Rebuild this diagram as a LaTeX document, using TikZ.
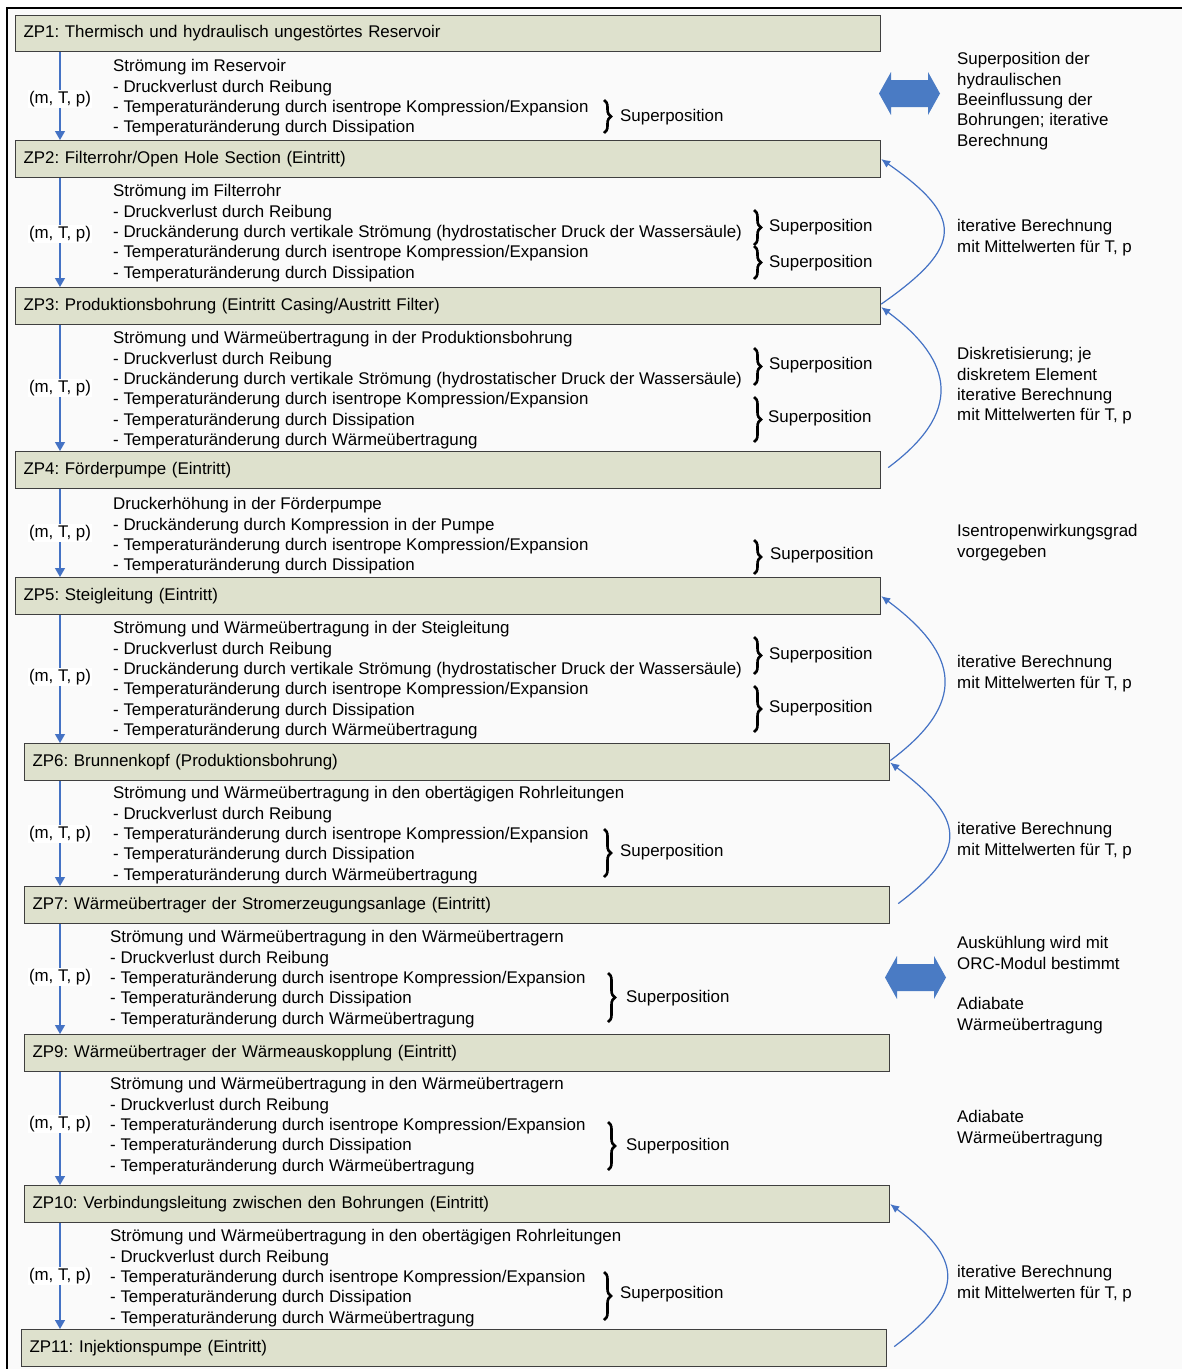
\documentclass[tikz,border=0pt]{standalone}
\usepackage{fontspec}
\setmainfont{Liberation Sans}
\usetikzlibrary{arrows.meta,decorations.pathreplacing}
\definecolor{boxfill}{HTML}{DEE1CD}
\definecolor{boxline}{HTML}{3F3F3F}
\definecolor{flowblue}{HTML}{4472C4}
\definecolor{bigblue}{HTML}{4A7BC4}
\definecolor{bgcol}{HTML}{FAFAFA}
\frenchspacing
\begin{document}
\begin{tikzpicture}[x=1pt,y=-1pt,
  font=\fontsize{16.9}{20.3}\selectfont,
  zp/.style={draw=boxline, line width=1.2pt, fill=boxfill, anchor=north west,
    minimum height=37pt, inner xsep=8pt, inner ysep=0pt, text width=849pt, align=left},
  flow/.style={draw=flowblue, line width=1.3pt, -{Triangle[width=10pt,length=9pt]}},
  curv/.style={draw=flowblue, line width=1.2pt, -{Latex[width=8pt,length=9pt]}},
  mtp/.style={fill=white, inner xsep=1pt, inner ysep=1.5pt},
  blk/.style={anchor=north west, align=left, inner sep=0pt},
  rt/.style={anchor=north west, align=left, inner sep=0pt},
  brc/.style={decorate, decoration={brace, amplitude=7pt}, line width=2.6pt},
  sp/.style={anchor=west, inner sep=0pt}]
\useasboundingbox (0,0) rectangle (1182,1369);
\fill[bgcol] (7,8) rectangle (1182,1369);
\draw[line width=1.5pt] (7,1369) -- (7,8) -- (1182,8);

% boxes
\node[zp, minimum height=36pt] (zp1) at (15,15) {ZP1: Thermisch und hydraulisch ungestörtes Reservoir};
\node[zp] (zp2) at (15,140) {ZP2: Filterrohr/Open Hole Section (Eintritt)};
\node[zp] (zp3) at (15,287) {ZP3: Produktionsbohrung (Eintritt Casing/Austritt Filter)};
\node[zp] (zp4) at (15,451) {ZP4: Förderpumpe (Eintritt)};
\node[zp] (zp5) at (15,577) {ZP5: Steigleitung (Eintritt)};
\node[zp] (zp6) at (24,743) {ZP6: Brunnenkopf (Produktionsbohrung)};
\node[zp] (zp7) at (24,886) {ZP7: Wärmeübertrager der Stromerzeugungsanlage (Eintritt)};
\node[zp] (zp9) at (24,1034) {ZP9: Wärmeübertrager der Wärmeauskopplung (Eintritt)};
\node[zp] (zp10) at (24,1185) {ZP10: Verbindungsleitung zwischen den Bohrungen (Eintritt)};
\node[zp] (zp11) at (21,1329) {ZP11: Injektionspumpe (Eintritt)};

% vertical flow arrows
\coordinate (ax) at (60,0);
\draw[flow] (zp1.south -| ax) -- (zp2.north -| ax);
\draw[flow] (zp2.south -| ax) -- (zp3.north -| ax);
\draw[flow] (zp3.south -| ax) -- (zp4.north -| ax);
\draw[flow] (zp4.south -| ax) -- (zp5.north -| ax);
\draw[flow] (zp5.south -| ax) -- (zp6.north -| ax);
\draw[flow] (zp6.south -| ax) -- (zp7.north -| ax);
\draw[flow] (zp7.south -| ax) -- (zp9.north -| ax);
\draw[flow] (zp9.south -| ax) -- (zp10.north -| ax);
\draw[flow] (zp10.south -| ax) -- (zp11.north -| ax);

\node[mtp] (m1) at (60,99) {(m, T, p)};
\node[mtp] (m2) at (60,234) {(m, T, p)};
\node[mtp] (m3) at (60,388) {(m, T, p)};
\node[mtp] (m4) at (60,533) {(m, T, p)};
\node[mtp] (m5) at (60,677) {(m, T, p)};
\node[mtp] (m6) at (60,834) {(m, T, p)};
\node[mtp] (m7) at (60,977) {(m, T, p)};
\node[mtp] (m8) at (60,1124) {(m, T, p)};
\node[mtp] (m9) at (60,1276) {(m, T, p)};

% text blocks
\node[blk] (b1) at (113,59.5) {Strömung im Reservoir\\- Druckverlust durch Reibung\\- Temperaturänderung durch isentrope Kompression/Expansion\\- Temperaturänderung durch Dissipation};
\node[blk] (b2) at (113,184.5) {Strömung im Filterrohr\\- Druckverlust durch Reibung\\- Druckänderung durch vertikale Strömung (hydrostatischer Druck der Wassersäule)\\- Temperaturänderung durch isentrope Kompression/Expansion\\- Temperaturänderung durch Dissipation};
\node[blk] (b3) at (113,331.5) {Strömung und Wärmeübertragung in der Produktionsbohrung\\- Druckverlust durch Reibung\\- Druckänderung durch vertikale Strömung (hydrostatischer Druck der Wassersäule)\\- Temperaturänderung durch isentrope Kompression/Expansion\\- Temperaturänderung durch Dissipation\\- Temperaturänderung durch Wärmeübertragung};
\node[blk] (b4) at (113,497.5) {Druckerhöhung in der Förderpumpe\\- Druckänderung durch Kompression in der Pumpe\\- Temperaturänderung durch isentrope Kompression/Expansion\\- Temperaturänderung durch Dissipation};
\node[blk] (b5) at (113,621.5) {Strömung und Wärmeübertragung in der Steigleitung\\- Druckverlust durch Reibung\\- Druckänderung durch vertikale Strömung (hydrostatischer Druck der Wassersäule)\\- Temperaturänderung durch isentrope Kompression/Expansion\\- Temperaturänderung durch Dissipation\\- Temperaturänderung durch Wärmeübertragung};
\node[blk] (b6) at (113,786.5) {Strömung und Wärmeübertragung in den obertägigen Rohrleitungen\\- Druckverlust durch Reibung\\- Temperaturänderung durch isentrope Kompression/Expansion\\- Temperaturänderung durch Dissipation\\- Temperaturänderung durch Wärmeübertragung};
\node[blk] (b7) at (110,930.5) {Strömung und Wärmeübertragung in den Wärmeübertragern\\- Druckverlust durch Reibung\\- Temperaturänderung durch isentrope Kompression/Expansion\\- Temperaturänderung durch Dissipation\\- Temperaturänderung durch Wärmeübertragung};
\node[blk] (b8) at (110,1077.5) {Strömung und Wärmeübertragung in den Wärmeübertragern\\- Druckverlust durch Reibung\\- Temperaturänderung durch isentrope Kompression/Expansion\\- Temperaturänderung durch Dissipation\\- Temperaturänderung durch Wärmeübertragung};
\node[blk] (b9) at (110,1229.5) {Strömung und Wärmeübertragung in den obertägigen Rohrleitungen\\- Druckverlust durch Reibung\\- Temperaturänderung durch isentrope Kompression/Expansion\\- Temperaturänderung durch Dissipation\\- Temperaturänderung durch Wärmeübertragung};

% braces
\draw[brc] (604,100) -- (604,133);   \node[sp] (s1) at (620,117.5) {Superposition};
\draw[brc] (754,210) -- (754,245);   \node[sp] (s2a) at (769,227.5) {Superposition};
\draw[brc] (754,246) -- (754,279);   \node[sp] (s2b) at (769,263.5) {Superposition};
\draw[brc] (754,348) -- (754,385);   \node[sp] (s3a) at (769,365.5) {Superposition};
\draw[brc] (754,397) -- (754,442);   \node[sp] (s3b) at (768,418.5) {Superposition};
\draw[brc] (754,540) -- (754,574);   \node[sp] (s4) at (770,555.5) {Superposition};
\draw[brc] (754,637) -- (754,674);   \node[sp] (s5a) at (769,655.5) {Superposition};
\draw[brc] (754,686) -- (754,732);   \node[sp] (s5b) at (769,708.5) {Superposition};
\draw[brc] (604,829) -- (604,877);   \node[sp] (s6) at (620,852.5) {Superposition};
\draw[brc] (608,973) -- (608,1022);  \node[sp] (s7) at (626,998.5) {Superposition};
\draw[brc] (608,1122) -- (608,1170); \node[sp] (s8) at (626,1146.5) {Superposition};
\draw[brc] (604,1272) -- (604,1320); \node[sp] (s9) at (620,1294.5) {Superposition};

% right-hand texts
\node[rt] (r1) at (957,52.5) {Superposition der\\hydraulischen\\Beeinflussung der\\Bohrungen; iterative\\Berechnung};
\node[rt] (r2) at (957,219.5) {iterative Berechnung\\mit Mittelwerten für T, p};
\node[rt] (r3) at (957,347.5) {Diskretisierung; je\\diskretem Element\\iterative Berechnung\\mit Mittelwerten für T, p};
\node[rt] (r4) at (957,524.5) {Isentropenwirkungsgrad\\vorgegeben};
\node[rt] (r5) at (957,655.5) {iterative Berechnung\\mit Mittelwerten für T, p};
\node[rt] (r6) at (957,822.5) {iterative Berechnung\\mit Mittelwerten für T, p};
\node[rt] (r7) at (957,936.5) {Auskühlung wird mit\\ORC-Modul bestimmt};
\node[rt] (r7b) at (957,997.5) {Adiabate\\Wärmeübertragung};
\node[rt] (r8) at (957,1110.5) {Adiabate\\Wärmeübertragung};
\node[rt] (r9) at (957,1265.5) {iterative Berechnung\\mit Mittelwerten für T, p};

% big double arrows
\fill[bigblue] (879,93.5) -- (891,72) -- (891,80) -- (928,80) -- (928,72) -- (940,93.5)
  -- (928,115) -- (928,107) -- (891,107) -- (891,115) -- cycle;
\fill[bigblue] (885,977.5) -- (897,956) -- (897,964) -- (934,964) -- (934,956) -- (946,977.5)
  -- (934,999) -- (934,991) -- (897,991) -- (897,999) -- cycle;

% curved iteration arrows
\draw[curv] ([yshift=2pt]zp3.east) .. controls +(83,-58) and +(83,58) .. (zp2.east);
\draw[curv] ([xshift=7pt,yshift=2.5pt]zp4.east) .. controls +(74,-55) and +(74,55) .. ([yshift=-1pt]zp3.east);
\draw[curv] ([yshift=1.5pt]zp6.east) .. controls +(78,-58) and +(78,58) .. (zp5.east);
\draw[curv] ([xshift=8pt,yshift=1.5pt]zp7.east) .. controls +(73,-55) and +(73,55) .. ([yshift=-0.5pt]zp6.east);
\draw[curv] ([xshift=7pt,yshift=1.5pt]zp11.east) .. controls +(73,-55) and +(73,55) .. (zp10.east);
\end{tikzpicture}
\end{document}
